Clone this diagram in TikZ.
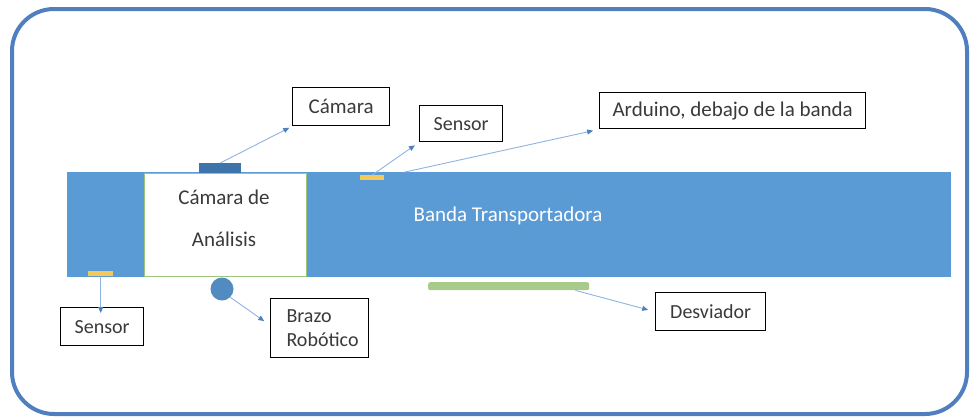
\documentclass[tikz,border=0pt]{standalone}
\usepackage{fontspec}
\setmainfont{Carlito}
\usetikzlibrary{arrows.meta}
\definecolor{frameblue}{HTML}{4F7FBF}
\definecolor{beltblue}{HTML}{5B9BD5}
\definecolor{camblue}{HTML}{3F74AA}
\definecolor{sensyellow}{HTML}{F5C85A}
\definecolor{divgreen}{HTML}{A8CB8C}
\definecolor{boxgreen}{HTML}{70AD47}
\definecolor{arrowblue}{HTML}{8DB3E2}
\definecolor{tipblue}{HTML}{4F81BD}
\definecolor{txtgray}{HTML}{3A3A3A}
\tikzset{
  label box/.style={draw=black, line width=1.4pt, fill=white, inner sep=0pt,
    anchor=north west},
  box text/.style={text=txtgray, font=\fontsize{21}{24}\selectfont},
  small text/.style={text=txtgray, font=\fontsize{20}{24}\selectfont},
  pointer/.style={draw=arrowblue, line width=0.9pt,
    -{Triangle[length=6pt,width=5pt,fill=tipblue,color=tipblue]}},
  part/.style={inner sep=0pt, anchor=north west, draw=none}
}
\begin{document}
\begin{tikzpicture}[x=1pt,y=-1pt]
\useasboundingbox (0,0) rectangle (973,418);
% outer frame
\draw[frameblue, line width=4pt, rounded corners=42pt] (12,9) rectangle (967,414);

% conveyor belt
\node[part, fill=beltblue, minimum width=884pt, minimum height=105pt] (belt) at (67,172) {};
\node[text=white, font=\fontsize{21}{24}\selectfont] (beltlabel) at (508,216) {Banda Transportadora};

% analysis chamber
\node[part, fill=white, draw=boxgreen!70!white, line width=0.8pt,
  minimum width=162pt, minimum height=103pt] (chamber) at (144,173) {};
\node[box text] (ch1) at (224,197) {Cámara de};
\node[box text] (ch2) at (224,239) {Análisis};

% devices on the belt
\node[part, fill=camblue, minimum width=42pt, minimum height=10pt] (cam) at (199,163) {};
\node[part, fill=sensyellow, minimum width=24pt, minimum height=5pt] (sensA) at (360,175) {};
\node[part, fill=sensyellow, minimum width=25pt, minimum height=5pt] (sensB) at (88,271) {};
\node[circle, fill=beltblue!90!black, minimum size=23pt, inner sep=0pt] (arm) at (222,289) {};
\node[part, fill=divgreen, minimum width=161pt, minimum height=8pt, rounded corners=2pt] (div) at (428,282) {};
\coordinate (ardsrc) at (405,172);

% label boxes
\node[label box, minimum width=97pt, minimum height=38pt] (bCam) at (292,87) {};
\node[box text] (tCam) at (bCam.center) {Cámara};
\node[label box, minimum width=83pt, minimum height=36pt] (bSensA) at (419,105) {};
\node[small text] (tSensA) at (bSensA.center) {Sensor};
\node[label box, minimum width=266pt, minimum height=36pt] (bArd) at (599,92) {};
\node[box text] (tArd) at (bArd.center) {Arduino, debajo de la banda};
\node[label box, minimum width=83pt, minimum height=38pt] (bSensB) at (60,307) {};
\node[small text] (tSensB) at (bSensB.center) {Sensor};
\node[label box, minimum width=98pt, minimum height=59pt] (bArm) at (270,298) {};
\node[small text, anchor=west, align=left, font=\fontsize{20}{24}\selectfont]
  (tArm) at ([xshift=13pt]bArm.west) {Brazo\\Robótico};
\node[label box, minimum width=110pt, minimum height=38pt] (bDiv) at (655,292) {};
\node[small text] (tDiv) at (bDiv.center) {Desviador};

% pointers
\draw[pointer, shorten >=3pt] (cam.north) -- (bCam.south west);
\draw[pointer, shorten >=5pt] (sensA.north) -- (bSensA.south west);
\draw[pointer, shorten >=6pt] (ardsrc) -- (bArd.south west);
\draw[pointer] (sensB.south) -- ([yshift=-6pt]bSensB.north -| sensB.south);
\draw[pointer, shorten >=7pt] (arm.south east) -- ([yshift=3pt]bArm.west);
\draw[pointer, shorten >=7pt] ([xshift=-14pt]div.south east) -- (bDiv.west);
\end{tikzpicture}
\end{document}
